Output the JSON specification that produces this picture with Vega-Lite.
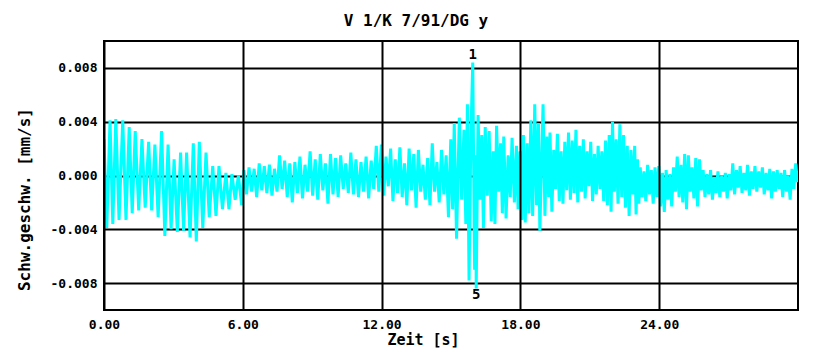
{
  "$schema": "https://vega.github.io/schema/vega-lite/v6.json",
  "autosize": "none",
  "width": 694,
  "height": 269,
  "padding": {"left": 104, "top": 41, "right": 32, "bottom": 42},
  "background": "white",
  "title": {"text": "V 1/K 7/91/DG y", "font": "DejaVu Sans Mono", "fontSize": 16, "fontWeight": "bold", "color": "black", "offset": 12, "dx": -35},
  "config": {"view": {"stroke": "black", "strokeWidth": 2}},
  "datasets": {
    "sig": [
      {"t":0.00,"v":0.0027},{"t":0.12,"v":-0.0039},{"t":0.26,"v":0.0041},{"t":0.38,"v":-0.0036},{"t":0.51,"v":0.0042},{"t":0.65,"v":-0.0033},{"t":0.81,"v":0.0041},{"t":0.95,"v":-0.0033},{"t":1.09,"v":0.0036},{"t":1.22,"v":-0.0028},{"t":1.35,"v":0.0033},{"t":1.50,"v":-0.0026},{"t":1.64,"v":0.0027},{"t":1.78,"v":-0.0024},{"t":1.93,"v":0.0025},{"t":2.06,"v":-0.0026},{"t":2.20,"v":0.0023},{"t":2.34,"v":-0.0031},{"t":2.49,"v":0.0033},{"t":2.63,"v":-0.0045},{"t":2.77,"v":0.0023},{"t":2.90,"v":-0.0040},{"t":3.03,"v":0.0012},{"t":3.17,"v":-0.0042},{"t":3.31,"v":0.0017},{"t":3.44,"v":-0.0041},{"t":3.57,"v":0.0017},{"t":3.72,"v":-0.0046},{"t":3.86,"v":0.0024},{"t":3.99,"v":-0.0049},{"t":4.12,"v":0.0025},{"t":4.27,"v":-0.0039},{"t":4.41,"v":0.0017},{"t":4.55,"v":-0.0031},{"t":4.70,"v":0.0007},{"t":4.84,"v":-0.0030},{"t":4.97,"v":0.0007},{"t":5.12,"v":-0.0025},{"t":5.27,"v":0.0002},{"t":5.40,"v":-0.0025},{"t":5.53,"v":0.0001},{"t":5.67,"v":-0.0018},{"t":5.81,"v":0.0000},{"t":5.95,"v":-0.0022},
      {"t":6.05,"v":0.0004},{"t":6.16,"v":-0.0014},{"t":6.27,"v":0.0006},{"t":6.38,"v":-0.0012},{"t":6.49,"v":0.0005},{"t":6.60,"v":-0.0016},{"t":6.71,"v":0.0009},{"t":6.82,"v":-0.0011},{"t":6.93,"v":0.0007},{"t":7.04,"v":-0.0013},{"t":7.15,"v":0.0008},{"t":7.26,"v":-0.0015},{"t":7.37,"v":0.0005},{"t":7.48,"v":-0.0012},{"t":7.59,"v":0.0015},{"t":7.70,"v":-0.0010},{"t":7.81,"v":0.0011},{"t":7.92,"v":-0.0016},{"t":8.03,"v":0.0009},{"t":8.14,"v":-0.0020},{"t":8.25,"v":0.0010},{"t":8.36,"v":-0.0013},{"t":8.47,"v":0.0014},{"t":8.58,"v":-0.0017},{"t":8.69,"v":0.0008},{"t":8.80,"v":-0.0012},{"t":8.91,"v":0.0018},{"t":9.02,"v":-0.0015},{"t":9.13,"v":0.0012},{"t":9.24,"v":-0.0018},{"t":9.35,"v":0.0016},{"t":9.46,"v":-0.0011},{"t":9.57,"v":0.0009},{"t":9.68,"v":-0.0021},{"t":9.79,"v":0.0016},{"t":9.90,"v":-0.0014},{"t":10.01,"v":0.0013},{"t":10.12,"v":-0.0016},{"t":10.23,"v":0.0015},{"t":10.34,"v":-0.0010},{"t":10.45,"v":0.0009},{"t":10.56,"v":-0.0013},{"t":10.67,"v":0.0017},{"t":10.78,"v":-0.0014},{"t":10.89,"v":0.0012},{"t":11.00,"v":-0.0016},{"t":11.11,"v":0.0010},{"t":11.22,"v":-0.0012},{"t":11.33,"v":0.0014},{"t":11.44,"v":-0.0017},{"t":11.55,"v":0.0011},{"t":11.66,"v":-0.0010},{"t":11.77,"v":0.0022},{"t":11.88,"v":-0.0012},
      {"t":11.99,"v":0.0023},{"t":12.09,"v":-0.0015},{"t":12.19,"v":0.0014},{"t":12.29,"v":-0.0008},{"t":12.39,"v":0.0020},{"t":12.49,"v":-0.0019},{"t":12.59,"v":0.0012},{"t":12.69,"v":-0.0013},{"t":12.79,"v":0.0021},{"t":12.89,"v":-0.0016},{"t":12.99,"v":0.0009},{"t":13.09,"v":-0.0022},{"t":13.19,"v":0.0020},{"t":13.29,"v":-0.0011},{"t":13.39,"v":0.0016},{"t":13.49,"v":-0.0024},{"t":13.59,"v":0.0019},{"t":13.69,"v":-0.0012},{"t":13.79,"v":0.0008},{"t":13.89,"v":-0.0018},{"t":13.99,"v":0.0013},{"t":14.09,"v":-0.0022},{"t":14.19,"v":0.0024},{"t":14.29,"v":-0.0012},{"t":14.39,"v":0.0010},{"t":14.49,"v":-0.0020},{"t":14.59,"v":0.0019},{"t":14.69,"v":-0.0014},{"t":14.79,"v":0.0015},{"t":14.89,"v":-0.0031},{"t":14.99,"v":0.0027},{"t":15.07,"v":-0.0025},{"t":15.14,"v":0.0039},{"t":15.24,"v":-0.0047},{"t":15.36,"v":0.0043},{"t":15.46,"v":-0.0018},{"t":15.56,"v":0.0034},{"t":15.64,"v":-0.0036},{"t":15.71,"v":0.0053},{"t":15.78,"v":-0.0078},{"t":15.86,"v":0.0030},{"t":15.94,"v":0.0084},{"t":16.02,"v":-0.0070},{"t":16.06,"v":0.0015},{"t":16.09,"v":-0.0084},{"t":16.17,"v":0.0045},{"t":16.26,"v":-0.0018},{"t":16.33,"v":0.0030},{"t":16.40,"v":-0.0039},{"t":16.48,"v":0.0036},{"t":16.57,"v":-0.0015},{"t":16.65,"v":0.0033},{"t":16.74,"v":-0.0034},{"t":16.82,"v":0.0018},{"t":16.90,"v":-0.0036},{"t":16.97,"v":0.0037},{"t":17.06,"v":-0.0012},{"t":17.14,"v":0.0024},{"t":17.22,"v":-0.0028},{"t":17.28,"v":0.0029},{"t":17.38,"v":-0.0032},{"t":17.47,"v":0.0015},{"t":17.56,"v":-0.0016},{"t":17.64,"v":0.0028},{"t":17.74,"v":-0.0020},{"t":17.83,"v":0.0022},{"t":17.90,"v":-0.0025},{"t":17.98,"v":0.0018},{"t":18.06,"v":-0.0033},{"t":18.13,"v":0.0030},{"t":18.21,"v":-0.0035},{"t":18.29,"v":0.0024},{"t":18.37,"v":-0.0028},{"t":18.45,"v":0.0041},{"t":18.53,"v":-0.0030},{"t":18.62,"v":0.0053},{"t":18.70,"v":-0.0022},{"t":18.78,"v":0.0039},{"t":18.84,"v":-0.0041},{"t":18.98,"v":0.0053},{"t":19.06,"v":-0.0030},{"t":19.14,"v":0.0029},{"t":19.22,"v":-0.0016},{"t":19.28,"v":0.0032},{"t":19.36,"v":-0.0027},{"t":19.44,"v":0.0019},{"t":19.52,"v":-0.0010},{"t":19.60,"v":0.0031},{"t":19.68,"v":-0.0019},{"t":19.76,"v":0.0018},{"t":19.84,"v":-0.0021},{"t":19.92,"v":0.0025},{"t":20.00,"v":-0.0011},{"t":20.08,"v":0.0032},{"t":20.16,"v":-0.0018},{"t":20.24,"v":0.0026},{"t":20.32,"v":-0.0013},{"t":20.40,"v":0.0034},{"t":20.48,"v":-0.0020},{"t":20.56,"v":0.0022},{"t":20.64,"v":-0.0012},{"t":20.72,"v":0.0027},{"t":20.80,"v":-0.0017},{"t":20.88,"v":0.0018},{"t":20.96,"v":-0.0008},{"t":21.04,"v":0.0025},{"t":21.12,"v":-0.0019},{"t":21.20,"v":0.0016},{"t":21.28,"v":-0.0014},{"t":21.36,"v":0.0022},{"t":21.44,"v":-0.0010},{"t":21.52,"v":0.0018},{"t":21.60,"v":-0.0019},{"t":21.68,"v":0.0026},{"t":21.76,"v":-0.0022},{"t":21.84,"v":0.0030},{"t":21.92,"v":-0.0027},{"t":21.98,"v":0.0040},{"t":22.06,"v":-0.0012},{"t":22.14,"v":0.0027},{"t":22.22,"v":-0.0021},{"t":22.30,"v":0.0038},{"t":22.38,"v":-0.0016},{"t":22.46,"v":0.0030},{"t":22.54,"v":-0.0024},{"t":22.62,"v":0.0022},{"t":22.70,"v":-0.0030},{"t":22.78,"v":0.0019},{"t":22.86,"v":-0.0014},{"t":22.94,"v":0.0022},{"t":23.00,"v":-0.0029},{"t":23.06,"v":0.0012},{"t":23.12,"v":-0.0021},{"t":23.18,"v":0.0006},{"t":23.26,"v":-0.0016},{"t":23.34,"v":0.0003},{"t":23.42,"v":-0.0019},{"t":23.50,"v":0.0008},{"t":23.58,"v":-0.0014},{"t":23.66,"v":0.0004},{"t":23.74,"v":-0.0021},{"t":23.82,"v":0.0006},{"t":23.90,"v":-0.0016},{"t":23.98,"v":0.0007},{"t":24.06,"v":-0.0023},{"t":24.14,"v":0.0002},{"t":24.22,"v":-0.0027},{"t":24.30,"v":0.0004},{"t":24.38,"v":-0.0018},{"t":24.46,"v":0.0001},{"t":24.54,"v":-0.0023},{"t":24.62,"v":0.0006},{"t":24.70,"v":-0.0012},{"t":24.78,"v":0.0014},{"t":24.86,"v":-0.0016},{"t":24.94,"v":0.0008},{"t":25.02,"v":-0.0020},{"t":25.10,"v":0.0016},{"t":25.18,"v":-0.0025},{"t":25.26,"v":0.0015},{"t":25.34,"v":-0.0012},{"t":25.42,"v":0.0006},{"t":25.50,"v":-0.0017},{"t":25.58,"v":0.0013},{"t":25.66,"v":-0.0023},{"t":25.74,"v":0.0012},{"t":25.82,"v":-0.0011},{"t":25.90,"v":0.0004},{"t":25.98,"v":-0.0016},{"t":26.06,"v":0.0001},{"t":26.14,"v":-0.0014},{"t":26.22,"v":0.0004},{"t":26.30,"v":-0.0018},{"t":26.38,"v":-0.0001},{"t":26.46,"v":-0.0013},{"t":26.54,"v":0.0003},{"t":26.62,"v":-0.0016},{"t":26.70,"v":0.0000},{"t":26.78,"v":-0.0012},{"t":26.86,"v":0.0002},{"t":26.94,"v":-0.0017},{"t":27.02,"v":0.0001},{"t":27.10,"v":-0.0011},{"t":27.18,"v":0.0009},{"t":27.26,"v":-0.0014},{"t":27.34,"v":0.0004},{"t":27.42,"v":-0.0009},{"t":27.50,"v":0.0007},{"t":27.58,"v":-0.0013},{"t":27.66,"v":0.0002},{"t":27.74,"v":-0.0011},{"t":27.82,"v":0.0008},{"t":27.90,"v":-0.0015},{"t":27.98,"v":0.0003},{"t":28.06,"v":-0.0010},{"t":28.14,"v":0.0007},{"t":28.22,"v":-0.0012},{"t":28.30,"v":0.0003},{"t":28.38,"v":-0.0009},{"t":28.46,"v":0.0006},{"t":28.54,"v":-0.0014},{"t":28.62,"v":0.0002},{"t":28.70,"v":-0.0011},{"t":28.78,"v":0.0005},{"t":28.86,"v":-0.0017},{"t":28.94,"v":0.0003},{"t":29.02,"v":-0.0012},{"t":29.10,"v":0.0004},{"t":29.18,"v":-0.0010},{"t":29.26,"v":0.0002},{"t":29.34,"v":-0.0016},{"t":29.42,"v":0.0004},{"t":29.50,"v":-0.0012},{"t":29.58,"v":0.0000},{"t":29.66,"v":-0.0018},{"t":29.74,"v":0.0005},{"t":29.82,"v":-0.0010},{"t":29.90,"v":0.0009},{"t":29.98,"v":-0.0005}
    ],
    "marks": [
      {"t":15.94,"v":0.0084,"lab":"1","pos":"top"},
      {"t":16.09,"v":-0.0084,"lab":"5","pos":"bottom"}
    ]
  },
  "layer": [
    {
      "data": {"name": "sig"},
      "mark": {"type": "line", "color": "#00FFFF", "strokeWidth": 3, "clip": true},
      "encoding": {
        "x": {"field": "t", "type": "quantitative", "scale": {"domain": [0, 30], "nice": false},
          "axis": {"values": [0, 6, 12, 18, 24], "format": ".2f", "title": "Zeit [s]", "grid": true, "gridColor": "black", "gridWidth": 2, "gridOpacity": 1, "ticks": false, "domain": false, "zindex": 1, "labelFlush": false,
            "labelFont": "DejaVu Sans Mono", "labelFontSize": 13, "labelFontWeight": "bold", "labelColor": "black", "labelPadding": 8,
            "titleFont": "DejaVu Sans Mono", "titleFontSize": 15, "titleFontWeight": "bold", "titleColor": "black", "titlePadding": 1, "titleX": 319}},
        "y": {"field": "v", "type": "quantitative", "scale": {"domain": [-0.01, 0.01], "nice": false},
          "axis": {"values": [-0.008, -0.004, 0, 0.004, 0.008], "labelExpr": "replace(format(datum.value, '.3f'), '\u2212', '-')", "title": "Schw.geschw.  [mm/s]", "grid": true, "gridColor": "black", "gridWidth": 2, "gridOpacity": 1, "ticks": false, "domain": false, "zindex": 0,
            "labelFont": "DejaVu Sans Mono", "labelFontSize": 13, "labelFontWeight": "bold", "labelColor": "black", "labelPadding": 7,
            "titleFont": "DejaVu Sans Mono", "titleFontSize": 16, "titleFontWeight": "bold", "titleColor": "black", "titlePadding": 18, "titleY": 158}}
      }
    },
    {
      "data": {"name": "marks"},
      "transform": [{"filter": "datum.pos === 'top'"}],
      "mark": {"type": "text", "font": "DejaVu Sans Mono", "fontSize": 14, "fontWeight": "bold", "color": "black", "baseline": "bottom", "dy": -1},
      "encoding": {"x": {"field": "t", "type": "quantitative"}, "y": {"field": "v", "type": "quantitative"}, "text": {"field": "lab"}}
    },
    {
      "data": {"name": "marks"},
      "transform": [{"filter": "datum.pos === 'bottom'"}],
      "mark": {"type": "text", "font": "DejaVu Sans Mono", "fontSize": 14, "fontWeight": "bold", "color": "black", "baseline": "top", "dy": 0},
      "encoding": {"x": {"field": "t", "type": "quantitative"}, "y": {"field": "v", "type": "quantitative"}, "text": {"field": "lab"}}
    }
  ]
}
